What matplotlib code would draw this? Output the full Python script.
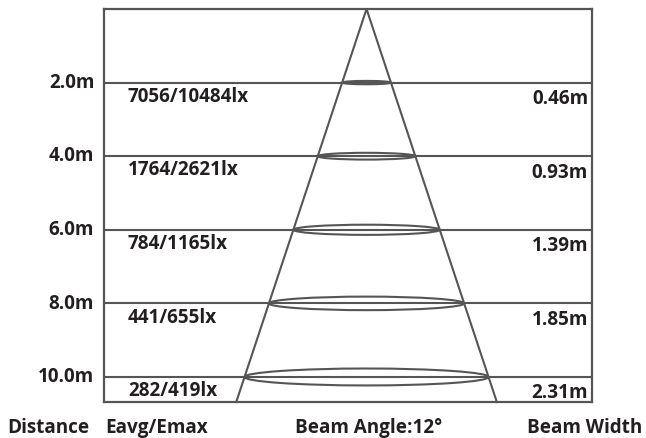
import matplotlib
matplotlib.use("Agg")
import matplotlib.pyplot as plt
from matplotlib.patches import Ellipse

# photometric data
distances = [2.0, 4.0, 6.0, 8.0, 10.0]
lux_labels = ["7056/10484lx", "1764/2621lx", "784/1165lx", "441/655lx", "282/419lx"]
beam_widths = ["0.46m", "0.93m", "1.39m", "1.85m", "2.31m"]
beam_angle = 12

line_col = "#555555"
text_col = "#231f20"
fs = 13.6
plt.rcParams['font.family'] = ['Open Sans', 'DejaVu Sans']

fig = plt.figure(figsize=(6.46, 4.39), dpi=100)
W, H = 646, 439
ax = fig.add_axes([104 / W, (H - 403) / H, 488 / W, 393 / H])

y_max = 10.68
ax.set_ylim(y_max, 0)
ax.set_xlim(0, 1)
ax.set_xticks([])
ax.set_yticks([])
for s in ax.spines.values():
    s.set_color(line_col)
    s.set_linewidth(1.6)

# schematic cone (half width in axes fraction per metre)
apex_x = 0.538
spread = 0.0250
ax.plot([apex_x - spread * y_max, apex_x, apex_x + spread * y_max], [y_max, 0, y_max],
        color=line_col, lw=1.5, clip_on=False, solid_joinstyle='miter')

for d, lx, bw in zip(distances, lux_labels, beam_widths):
    ax.axhline(d, color=line_col, lw=1.5)
    ax.add_patch(Ellipse((apex_x, d), 2 * spread * d, 0.046 * d,
                         fill=False, edgecolor=line_col, lw=1.5))
    ax.text(-0.02, d - 0.02, f"{d:.1f}m", ha='right', va='center', fontsize=fs,
            fontweight='bold', color=text_col, transform=ax.get_yaxis_transform())
    ax.text(0.049, d + 0.36, lx, ha='left', va='center', fontsize=fs,
            fontweight='bold', color=text_col, transform=ax.get_yaxis_transform())
    ax.text(0.992, d + 0.42, bw, ha='right', va='center', fontsize=fs,
            fontweight='bold', color=text_col, transform=ax.get_yaxis_transform())

bottom_y = 1 - 428 / H
fig.text(7 / W, bottom_y, "Distance", ha='left', va='center', fontsize=fs,
         fontweight='bold', color=text_col)
fig.text(105 / W, bottom_y, "Eavg/Emax", ha='left', va='center', fontsize=fs,
         fontweight='bold', color=text_col)
fig.text(369 / W, bottom_y, f"Beam Angle:{beam_angle}°", ha='center', va='center',
         fontsize=fs, fontweight='bold', color=text_col)
fig.text(642 / W, bottom_y, "Beam Width", ha='right', va='center', fontsize=fs,
         fontweight='bold', color=text_col)

fig.savefig("out.png", dpi=100)
